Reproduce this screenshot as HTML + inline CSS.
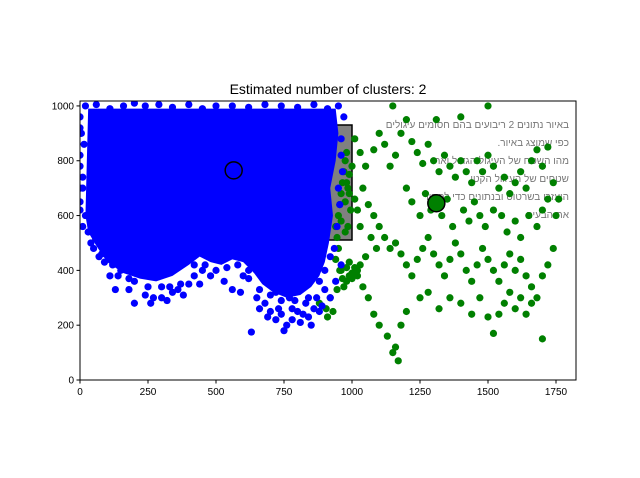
<!DOCTYPE html>
<html><head><meta charset="utf-8"><style>
html,body{margin:0;padding:0;background:#fff}
svg{display:block;font-family:"Liberation Sans","DejaVu Sans",sans-serif}
</style></head><body>
<svg id="chart" width="640" height="478" viewBox="0 0 640 478">
<rect width="640" height="478" fill="#fff"/>
<text x="328" y="94" font-size="14" text-anchor="middle">Estimated number of clusters: 2</text>
<g id="bg">
<rect x="93" y="125" width="259" height="115" fill="#808080" stroke="#000" stroke-width="1.5"/>
<text x="140" y="119" font-size="11" fill="#333">"ס 4</text>
<text x="292" y="119" font-size="11" fill="#333">"ס 4</text>
<g font-family="'Liberation Sans','DejaVu Sans',sans-serif" font-size="10" fill="#777" text-anchor="start" direction="rtl">
<text x="569" y="128">באיור נתונים 2 ריבועים בהם חסומים עיגולים</text>
<text x="569" y="146">כפי שמוצג באיור.</text>
<text x="569" y="164">מהו השטח של העיגול הגדול ואת</text>
<text x="569" y="182">שטחים של העיגול הקטן</text>
<text x="569" y="200">היעזרו בשרטוט ובנתונים כדי לפתור</text>
<text x="569" y="218">את הבעיה</text>
</g>
</g>
<g id="marks"></g>
<g id="axes"></g>
</svg>
<script>
const xTicks=[0,250,500,750,1000,1250,1500,1750];
const yTicks=[0,200,400,600,800,1000];
const blueCore=[[30,990],[940,990],[950,900],[940,800],[920,700],[930,600],[915,500],[900,430],[880,380],[850,340],[810,310],[760,300],[710,320],[670,350],[640,390],[600,430],[560,440],[520,420],[480,430],[440,450],[400,420],[340,380],[280,360],[220,370],[160,390],[100,430],[60,490],[30,540],[20,600]];
const bluePts=[[130,330],[200,280],[260,280],[300,300],[340,320],[380,310],[400,350],[180,330],[150,400],[90,430],[50,480],[20,600],[0,650],[480,380],[560,330],[590,320],[620,370],[630,175],[700,250],[740,240],[780,220],[810,210],[840,230],[860,260],[890,270],[920,300],[730,260],[760,200],[800,250],[830,280],[870,300],[680,280],[720,320],[420,380],[450,400],[240,310],[110,380],[70,450],[30,540],[960,880],[970,960],[950,1000],[10,700],[0,780],[5,900],[960,420],[940,360],[900,330],[770,300],[650,300],
[0,960],[20,1000],[60,1005],[110,990],[160,1000],[200,1010],[240,1000],[290,1005],[340,995],[400,1005],[450,990],[500,1000],[560,1000],[620,995],[680,1005],[740,1000],[800,995],[860,1005],[910,990],[960,820],[965,760],[950,700],[955,640],[945,560],[935,480],[920,450],[900,400],[880,360],[840,300],[790,290],[740,290],[700,310],[660,330],[620,400],[580,420],[540,410],[500,400],[460,420],[420,420],[370,350],[330,340],[300,340],[250,340],[200,360],[180,370],[140,380],[120,420],[80,460],[40,500],[10,560],[0,620],[0,700],[10,740],[0,820],[15,860],[0,920],[270,300],[320,290],[360,330],[440,350],[530,360],[600,380],[660,260],[690,230],[780,260],[820,240],[850,200],[880,250],[750,180],[720,220]];
const greenPts=[[940,560],[950,600],[955,640],[960,680],[965,720],[970,760],[975,800],[980,830],[945,520],[960,580],[975,650],[985,700],[990,750],[1000,780],[950,480],[940,440],[955,400],[965,370],[980,360],[1000,390],[1010,410],[990,430],[970,340],[945,330],[920,300],[905,260],[930,250],[880,280],[910,230],[1010,880],[1030,830],[1050,780],[1080,840],[1100,900],[1120,860],[1140,780],[1160,820],[1180,900],[1200,950],[1220,870],[1240,830],[1260,790],[1280,860],[1300,800],[1320,760],[1340,820],[1360,780],[1380,740],[1400,800],[1420,760],[1440,720],[1460,800],[1480,760],[1500,820],[1520,780],[1540,700],[1560,740],[1580,680],[1600,720],[1620,760],[1640,700],[1660,800],[1680,840],[1700,780],[1720,850],[1740,720],[1760,660],[1150,1000],[1310,950],[1400,960],[1500,1000],[1200,700],[1220,650],[1250,600],[1270,680],[1290,620],[1330,600],[1350,660],[1370,560],[1410,620],[1430,580],[1450,650],[1470,600],[1490,560],[1520,620],[1550,600],[1570,540],[1600,580],[1620,520],[1650,600],[1680,560],[1700,620],[1720,660],[1750,600],[1040,700],[1060,640],[1080,600],[1100,560],[1120,520],[1140,480],[1160,500],[1180,460],[1200,420],[1220,380],[1240,440],[1260,480],[1280,520],[1300,460],[1320,420],[1340,380],[1360,440],[1380,500],[1400,460],[1420,400],[1440,360],[1460,420],[1480,480],[1500,440],[1520,400],[1540,360],[1560,420],[1580,460],[1600,400],[1620,440],[1640,380],[1660,340],[1680,300],[1700,380],[1720,420],[1740,480],[1700,150],[1520,170],[1500,230],[1470,300],[1440,240],[1400,280],[1360,300],[1320,260],[1280,320],[1250,300],[1200,250],[1180,200],[1160,120],[1170,70],[1150,100],[1130,160],[1100,200],[1080,240],[1060,300],[1040,340],[1020,380],[1050,450],[1070,520],[1090,480],[1030,560],[1020,620],[1010,660],[1660,280],[1640,240],[1620,300],[1600,260],[1580,320],[1560,280],[1540,240],[960,400],[980,410],[1000,370],[990,380],[1020,400],[1030,420],[980,720],[990,680],[995,620],[985,560],[975,540]];
const centers=[[565,765,'#0000ff'],[1310,645,'#008000']];
const X0=80,X1=576,Y0=380,Y1=101,xMax=1823.5,yMax=1018;
const X=v=>X0+v/xMax*(X1-X0);
const Y=v=>Y0-v/yMax*(Y0-Y1);
const NS='http://www.w3.org/2000/svg';
const marks=document.getElementById('marks');
const axes=document.getElementById('axes');
function mk(tag,attrs,parent){const e=document.createElementNS(NS,tag);for(const k in attrs)e.setAttribute(k,attrs[k]);parent.appendChild(e);return e;}
const cp=mk('clipPath',{id:'clip'},marks);
mk('rect',{x:X0,y:Y1,width:X1-X0,height:Y0-Y1},cp);
const g=mk('g',{'clip-path':'url(#clip)'},marks);
const hull=mk('path',{d:'M'+blueCore.map(p=>X(p[0])+','+Y(p[1])).join('L')+'Z',fill:'#0000ff'},g);


greenPts.forEach(p=>{const c=mk('circle',{cx:X(p[0]),cy:Y(p[1]),r:3.6,fill:'#008000'},g);

});
bluePts.forEach(p=>{const c=mk('circle',{cx:X(p[0]),cy:Y(p[1]),r:3.6,fill:'#0000ff'},g);

});
centers.forEach(p=>{const c=mk('circle',{cx:X(p[0]),cy:Y(p[1]),r:8.5,fill:p[2],stroke:'#000','stroke-width':1.5},g);

});
const frame=mk('rect',{x:X0,y:Y1,width:X1-X0,height:Y0-Y1,fill:'none',stroke:'#000','stroke-width':1},axes);


xTicks.forEach(t=>{mk('line',{x1:X(t),x2:X(t),y1:Y0,y2:Y0+3.5,stroke:'#000'},axes);
const tx=mk('text',{x:X(t),y:Y0+15,'font-size':10,'text-anchor':'middle'},axes);tx.textContent=t;

});
yTicks.forEach(t=>{mk('line',{x1:X0-3.5,x2:X0,y1:Y(t),y2:Y(t),stroke:'#000'},axes);
const tx=mk('text',{x:X0-6,y:Y(t)+3.5,'font-size':10,'text-anchor':'end'},axes);tx.textContent=t;

});
</script>
</body></html>
